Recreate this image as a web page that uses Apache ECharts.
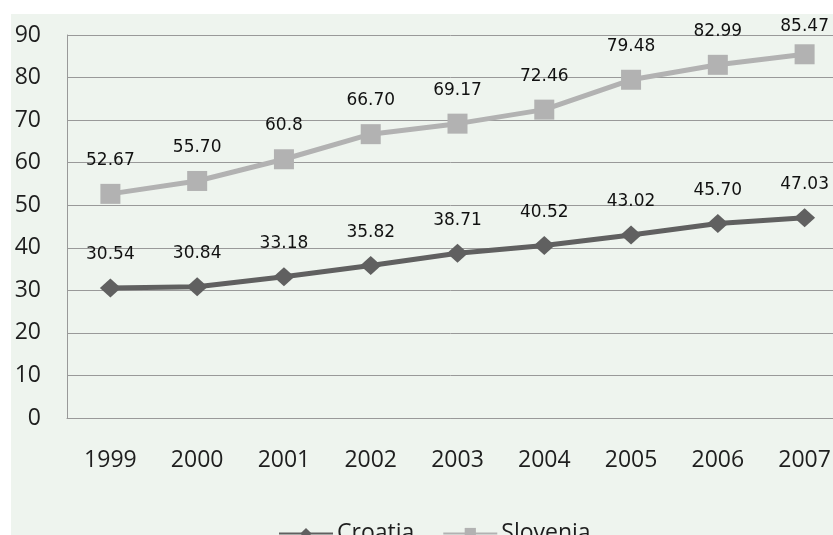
<!DOCTYPE html>
<html>
<head>
<meta charset="utf-8">
<script src="https://cdn.jsdelivr.net/npm/echarts@6/dist/echarts.min.js"></script>
<style>
html,body{margin:0;padding:0;background:#ffffff;}
#chart{width:833px;height:535px;}
</style>
</head>
<body>
<div id="chart"></div>
<script>
const years = ['1999','2000','2001','2002','2003','2004','2005','2006','2007'];
const croatia = [30.54, 30.84, 33.18, 35.82, 38.71, 40.52, 43.02, 45.70, 47.03];
const slovenia = [52.67, 55.70, 60.8, 66.70, 69.17, 72.46, 79.48, 82.99, 85.47];
const croatiaLabels = ['30.54','30.84','33.18','35.82','38.71','40.52','43.02','45.70','47.03'];
const sloveniaLabels = ['52.67','55.70','60.8','66.70','69.17','72.46','79.48','82.99','85.47'];
const yTicks = {min: 0, max: 90, interval: 10};

const chart = echarts.init(document.getElementById('chart'), null, {renderer: 'canvas'});

const labelStyle = {
  show: true,
  position: 'top',
  distance: 15,
  fontFamily: 'DejaVu Sans',
  fontSize: 17,
  color: '#111111'
};

const sloveniaData = slovenia.map((v, i) => {
  if (i === slovenia.length - 1) {
    return {value: v, label: {offset: [0, 6]}};
  }
  return v;
});

chart.setOption({
  animation: false,
  backgroundColor: '#ffffff',
  graphic: [{
    type: 'rect',
    z: -10,
    silent: true,
    shape: {x: 11, y: 14, width: 822, height: 521},
    style: {fill: '#eef4ee'}
  }],
  grid: {left: 67, width: 781, top: 35, bottom: 117, containLabel: false, outerBoundsMode: 'none'},
  legend: {
    left: 273,
    top: 517,
    itemWidth: 54,
    itemHeight: 14,
    itemGap: 28,
    textStyle: {fontFamily: 'Open Sans', fontSize: 23, color: '#1e1e1e', padding: [0,0,0,-1]},
    data: ['Croatia', 'Slovenia']
  },
  xAxis: {
    type: 'category',
    data: years,
    boundaryGap: true,
    axisLine: {show: true, lineStyle: {color: '#999999', width: 1}},
    axisTick: {show: false},
    axisLabel: {margin: 31, fontFamily: 'Open Sans', fontSize: 23, color: '#1e1e1e'},
    splitLine: {show: false}
  },
  yAxis: {
    type: 'value',
    min: yTicks.min,
    max: yTicks.max,
    interval: yTicks.interval,
    axisLine: {show: true, lineStyle: {color: '#999999', width: 1}},
    axisTick: {show: false},
    axisLabel: {margin: 26, fontFamily: 'Open Sans', fontSize: 23, color: '#1e1e1e'},
    splitLine: {show: true, lineStyle: {color: '#999999', width: 1}}
  },
  series: [
    {
      name: 'Croatia',
      type: 'line',
      data: croatia,
      symbol: 'diamond',
      symbolSize: [21, 19],
      showAllSymbol: true,
      lineStyle: {color: '#606060', width: 5},
      itemStyle: {color: '#606060'},
      label: Object.assign({}, labelStyle, {formatter: p => croatiaLabels[p.dataIndex]})
    },
    {
      name: 'Slovenia',
      type: 'line',
      data: sloveniaData,
      symbol: 'rect',
      symbolSize: 20,
      showAllSymbol: true,
      lineStyle: {color: '#b2b2b2', width: 5},
      itemStyle: {color: '#b2b2b2'},
      label: Object.assign({}, labelStyle, {formatter: p => sloveniaLabels[p.dataIndex]})
    }
  ]
});
</script>
</body>
</html>
